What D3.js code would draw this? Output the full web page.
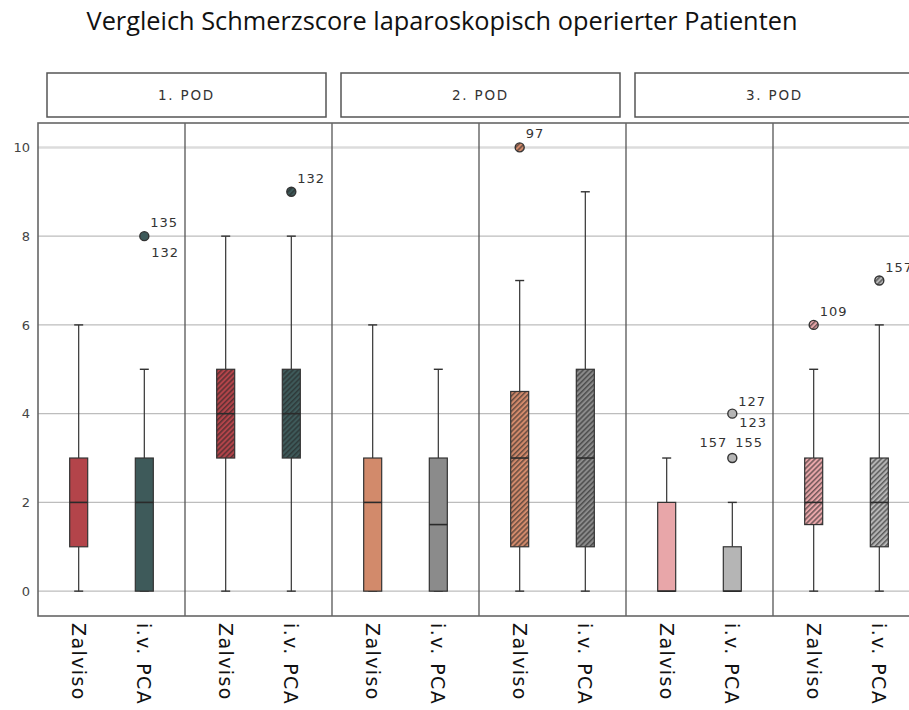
<!DOCTYPE html>
<html><head><meta charset="utf-8">
<script src="https://cdn.jsdelivr.net/npm/d3@7"></script>
<style>body{margin:0;background:#fff;} svg{display:block;}</style>
</head><body>
<svg id="c" width="909" height="710"></svg>
<script>
// ---- data ----
const title = "Vergleich Schmerzscore laparoskopisch operierter Patienten";
const days = ["1. POD", "2. POD", "3. POD"];
const groups = ["Zalviso", "i.v. PCA"];
const yTicks = [0, 2, 4, 6, 8, 10];
// 6 panels (2 per day); per panel: [Zalviso, i.v. PCA]
const panelDay = [0, 0, 1, 1, 2, 2];
const panelHatched = [false, true, false, true, false, true];
const whiskerLow = [[0, 0], [0, 0], [0, 0], [0, 0], [0, 0], [0, 0]];
const q1 = [[1, 0], [3, 3], [0, 0], [1, 1], [0, 0], [1.5, 1]];
const median = [[2, 2], [4, 4], [2, 1.5], [3, 3], [0, 0], [2, 2]];
const q3 = [[3, 3], [5, 5], [3, 3], [4.5, 5], [2, 1], [3, 3]];
const whiskerHigh = [[6, 5], [8, 8], [6, 5], [7, 9], [3, 2], [5, 6]];
const boxColors = [["#b3444a", "#3e5a5a"], ["#b3444a", "#3e5a5a"], ["#d28a6b", "#8b8b8b"], ["#d28a6b", "#8b8b8b"], ["#e8a6a9", "#b5b5b5"], ["#e8a6a9", "#b5b5b5"]];
// outliers: panel, group, value, labels
const outPanel = [0, 1, 3, 4, 4, 5, 5];
const outGroup = [1, 1, 0, 1, 1, 0, 1];
const outValue = [8, 9, 10, 4, 3, 6, 7];
const outLabels = [["135", "132"], ["132"], ["97"], ["127", "123"], ["157", "155"], ["109"], ["157"]];
const outLabelMode = ["ur-lr", "ur", "ur", "ur-rr", "ul-ur", "ur", "ur"];

// ---- layout ----
const svg = d3.select("#c");
const plotL = 38, panelW = 147, plotT = 123, plotB = 616;
const plotR = plotL + panelW * 6;
const x = d3.scaleBand().domain(d3.range(6)).range([plotL, plotR]).padding(0);
const xg = d3.scalePoint().domain(groups).range([0, panelW]).padding(0.62);
const y = d3.scaleLinear().domain([-0.56, 10.55]).range([plotB, plotT]);
const boxW = 18, capW = 9;

// patterns
const defs = svg.append("defs");
boxColors.forEach((pair, p) => pair.forEach((col, g) => {
  const pat = defs.append("pattern").attr("id", `h${p}_${g}`)
    .attr("patternUnits", "userSpaceOnUse").attr("width", 3.6).attr("height", 3.6)
    .attr("patternTransform", "rotate(45)");
  pat.append("rect").attr("width", 3.6).attr("height", 3.6).attr("fill", col);
  pat.append("line").attr("x1", 0.8).attr("x2", 0.8).attr("y1", 0).attr("y2", 3.6)
    .attr("stroke", "#262626").attr("stroke-width", 1.1).attr("stroke-opacity", 0.85);
}));
const fillOf = (p, g) => panelHatched[p] ? `url(#h${p}_${g})` : boxColors[p][g];

// title
const t = svg.append("text").attr("x", 442).attr("y", 30).attr("text-anchor", "middle")
  .attr("font-family", "'Open Sans', sans-serif").attr("font-size", 22).attr("fill", "#111").text(title);
const tl = t.node().getComputedTextLength();
t.attr("font-size", 22 * 711 / tl);

// facet headers
days.forEach((d, i) => {
  const x0 = x(i * 2) + 9, x1 = x(i * 2 + 1) + panelW - 6;
  svg.append("rect").attr("x", x0).attr("y", 73).attr("width", x1 - x0).attr("height", 44)
    .attr("fill", "#fff").attr("stroke", "#555").attr("stroke-width", 1.5);
  svg.append("text").attr("x", (x0 + x1) / 2).attr("y", 100).attr("text-anchor", "middle")
    .attr("font-family", "'DejaVu Sans', sans-serif").attr("font-size", 13.5).attr("letter-spacing", 1.8)
    .attr("fill", "#333").text(d);
});

// gridlines
const grid = svg.append("g");
yTicks.forEach(v => {
  grid.append("line").attr("x1", plotL).attr("x2", plotR).attr("y1", y(v)).attr("y2", y(v))
    .attr("stroke", v === 10 ? "#dcdcdc" : "#bdbdbd").attr("stroke-width", v === 10 ? 2.5 : 1.2);
});

// y axis
const yAxis = d3.axisLeft(y).tickValues(yTicks).tickSize(0).tickPadding(8);
const ya = svg.append("g").attr("transform", `translate(${plotL},0)`).call(yAxis);
ya.select(".domain").remove();
ya.selectAll("text").attr("font-family", "'DejaVu Sans', sans-serif").attr("font-size", 13).attr("fill", "#444");

// panel separators & frame
d3.range(1, 6).forEach(p => {
  svg.append("line").attr("x1", x(p)).attr("x2", x(p)).attr("y1", plotT).attr("y2", plotB)
    .attr("stroke", "#555").attr("stroke-width", 1.3);
});
svg.append("rect").attr("x", plotL).attr("y", plotT).attr("width", plotR - plotL).attr("height", plotB - plotT)
  .attr("fill", "none").attr("stroke", "#666").attr("stroke-width", 1.6);

// boxes
d3.range(6).forEach(p => {
  groups.forEach((gname, g) => {
    const cx = x(p) + xg(gname);
    const gg = svg.append("g");
    gg.append("line").attr("x1", cx).attr("x2", cx).attr("y1", y(whiskerHigh[p][g])).attr("y2", y(q3[p][g]))
      .attr("stroke", "#333").attr("stroke-width", 1.2);
    gg.append("line").attr("x1", cx).attr("x2", cx).attr("y1", y(q1[p][g])).attr("y2", y(whiskerLow[p][g]))
      .attr("stroke", "#333").attr("stroke-width", 1.2);
    [whiskerHigh[p][g], whiskerLow[p][g]].forEach(v => {
      gg.append("line").attr("x1", cx - capW / 2).attr("x2", cx + capW / 2).attr("y1", y(v)).attr("y2", y(v))
        .attr("stroke", "#333").attr("stroke-width", 1.4);
    });
    gg.append("rect").attr("x", cx - boxW / 2).attr("y", y(q3[p][g])).attr("width", boxW)
      .attr("height", y(q1[p][g]) - y(q3[p][g])).attr("fill", fillOf(p, g))
      .attr("stroke", "#333").attr("stroke-width", 1.2);
    gg.append("line").attr("x1", cx - boxW / 2).attr("x2", cx + boxW / 2)
      .attr("y1", y(median[p][g])).attr("y2", y(median[p][g]))
      .attr("stroke", "#2a2a2a").attr("stroke-width", 1.6);
  });
});

// outliers
outValue.forEach((v, i) => {
  const p = outPanel[i], g = outGroup[i];
  const cx = x(p) + xg(groups[g]), cy = y(v);
  svg.append("circle").attr("cx", cx).attr("cy", cy).attr("r", 4.5)
    .attr("fill", fillOf(p, g)).attr("stroke", "#333").attr("stroke-width", 1.4);
  const modes = outLabelMode[i].split("-");
  outLabels[i].forEach((lab, k) => {
    const m = modes[k];
    let tx = cx + 6, ty = cy - 9, anchor = "start";
    if (m === "lr") { tx = cx + 7; ty = cy + 21; }
    if (m === "rr") { tx = cx + 7; ty = cy + 13; }
    if (m === "ur" && modes[0] === "ur" && modes[1] === "rr") { ty = cy - 8; }
    if (m === "ul") { tx = cx - 5; ty = cy - 11; anchor = "end"; }
    if (m === "ur" && modes[0] === "ul") { tx = cx + 3; ty = cy - 11; }
    svg.append("text").attr("x", tx).attr("y", ty).attr("text-anchor", anchor)
      .attr("font-family", "'DejaVu Sans', sans-serif").attr("font-size", 13).attr("letter-spacing", 1)
      .attr("fill", "#333").text(lab);
  });
});

// x labels (rotated)
d3.range(6).forEach(p => {
  groups.forEach(gname => {
    const cx = x(p) + xg(gname);
    svg.append("text").attr("transform", `translate(${cx - 7},623) rotate(90)`)
      .attr("font-family", "'DejaVu Sans', sans-serif").attr("font-size", 19).attr("letter-spacing", 1.4)
      .attr("fill", "#111").text(gname);
  });
});
</script>
</body></html>
